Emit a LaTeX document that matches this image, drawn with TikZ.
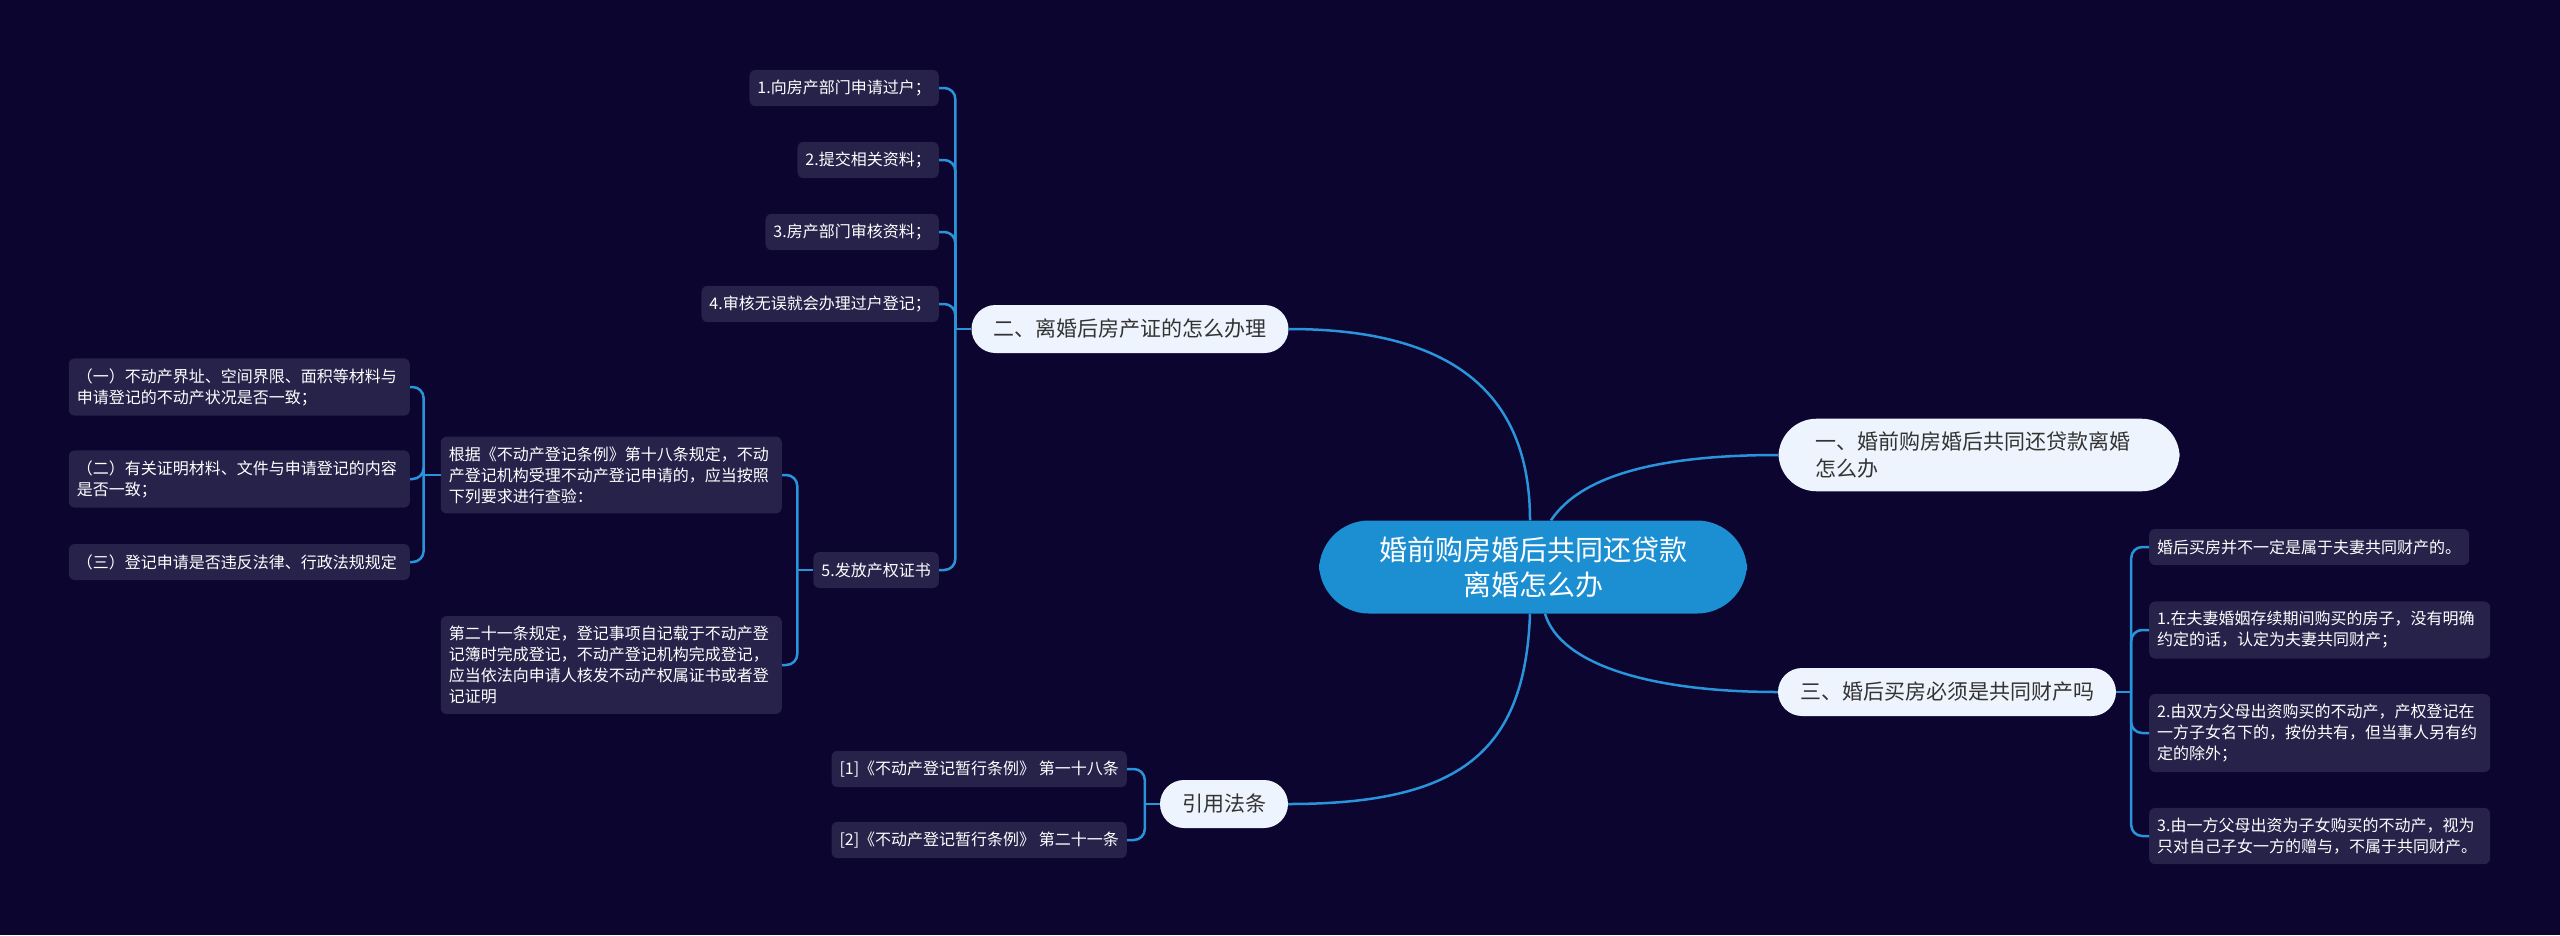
\documentclass[tikz,border=0pt]{standalone}
\usepackage{fontspec}
\setmainfont{Noto Sans CJK SC}
\usepackage{tikz}
\usetikzlibrary{calc}
\definecolor{bgnavy}{HTML}{0B0530}
\definecolor{leaffill}{HTML}{27224A}
\definecolor{linkblue}{HTML}{2A94DA}
\definecolor{rootblue}{HTML}{1B8FD2}
\definecolor{pillfill}{HTML}{EEF4FD}
\definecolor{pilltext}{HTML}{333333}

\begin{document}
\begin{tikzpicture}[x=1pt,y=-1pt,
	root/.style={fill=rootblue,text=white,rounded corners=50pt,align=center,
		inner xsep=60pt,inner ysep=16pt,font=\fontsize{28pt}{35pt}\selectfont},
	pill/.style={fill=pillfill,text=pilltext,rounded corners=24pt,inner xsep=22pt,
		minimum height=48pt,font=\fontsize{21pt}{27pt}\selectfont},
	leaf/.style={fill=leaffill,text=white,rounded corners=6pt,inner xsep=8pt,
		inner ysep=10pt,minimum height=36pt,font=\fontsize{16pt}{21pt}\selectfont},
	wide/.style={leaf,text width=325pt,align=left},
	link/.style={draw=linkblue,line width=2.5pt},
	fork/.style={link,rounded corners=11pt}]
	
	\fill[bgnavy] (0,0) rectangle (2560,935);
	
	\node[root] (root) at (1533,567) {婚前购房婚后共同还贷款\\离婚怎么办};
	
	\node[pill,rounded corners=38pt,inner xsep=37pt,inner ysep=13pt,text width=327pt,align=left]
		(one) at (1979,455) {一、婚前购房婚后共同还贷款离婚\\怎么办};
	\node[pill] (two) at (1130,329) {二、离婚后房产证的怎么办理};
	\node[pill] (three) at (1947,692) {三、婚后买房必须是共同财产吗};
	\node[pill] (cite) at (1224,804) {引用法条};
	
	% 二
	\node[leaf,anchor=east] (t1) at (939,88) {1.向房产部门申请过户；};
	\node[leaf,anchor=east] (t2) at (939,160) {2.提交相关资料；};
	\node[leaf,anchor=east] (t3) at (939,232) {3.房产部门审核资料；};
	\node[leaf,anchor=east] (t4) at (939,304) {4.审核无误就会办理过户登记；};
	\node[leaf,anchor=east] (t5) at (939,570) {5.发放产权证书};
	
	\node[wide,anchor=east] (t5a) at (782,475)
		{根据《不动产登记条例》第十八条规定，不动\\产登记机构受理不动产登记申请的，应当按照\\下列要求进行查验：};
	\node[wide,anchor=east] (t5b) at (782,665)
		{第二十一条规定，登记事项自记载于不动产登\\记簿时完成登记，不动产登记机构完成登记，\\应当依法向申请人核发不动产权属证书或者登\\记证明};
	
	\node[wide,anchor=east] (q1) at (410,387)
		{（一）不动产界址、空间界限、面积等材料与\\申请登记的不动产状况是否一致；};
	\node[wide,anchor=east] (q2) at (410,479)
		{（二）有关证明材料、文件与申请登记的内容\\是否一致；};
	\node[wide,anchor=east] (q3) at (410,562)
		{（三）登记申请是否违反法律、行政法规规定};
	
	% 三
	\node[leaf,anchor=west] (s0) at (2149,547) {婚后买房并不一定是属于夫妻共同财产的。};
	\node[wide,anchor=west] (s1) at (2149,630)
		{1.在夫妻婚姻存续期间购买的房子，没有明确\\约定的话，认定为夫妻共同财产；};
	\node[wide,anchor=west] (s2) at (2149,733)
		{2.由双方父母出资购买的不动产，产权登记在\\一方子女名下的，按份共有，但当事人另有约\\定的除外；};
	\node[wide,anchor=west] (s3) at (2149,836)
		{3.由一方父母出资为子女购买的不动产，视为\\只对自己子女一方的赠与，不属于共同财产。};
	
	% 引用法条
	\node[leaf,anchor=east] (c1) at (1127,769) {[1]《不动产登记暂行条例》 第一十八条};
	\node[leaf,anchor=east] (c2) at (1127,840) {[2]《不动产登记暂行条例》 第二十一条};
	
	\draw[link] ([xshift=-3pt]root.north) .. controls +(0,-130) and +(160,0) .. (two.east);
	\draw[link] ([xshift=18pt]root.north) .. controls +(30,-45) and +(-120,0) .. (one.west);
	\draw[link] ([xshift=12pt]root.south) .. controls +(15,50) and +(-130,0) .. (three.west);
	\draw[link] ([xshift=-3pt]root.south) .. controls +(-5,140) and +(170,0) .. (cite.east);
	
	\coordinate (j2) at ([xshift=-16pt]two.west);
	\coordinate (j5) at ([xshift=-16pt]t5.west);
	\coordinate (ja) at ([xshift=-17pt]t5a.west);
	\coordinate (j3) at ([xshift=15pt]three.east);
	\coordinate (jc) at ([xshift=-15pt]cite.west);
	
	\draw[link] (two.west) -- (j2);
	\foreach \k in {t1,t2,t3,t4,t5}
		\draw[fork] (j2) |- (\k.east);
	\draw[link] (t5.west) -- (j5);
	\foreach \k in {t5a,t5b}
		\draw[fork] (j5) |- (\k.east);
	\draw[link] (t5a.west) -- (ja);
	\foreach \k in {q1,q2,q3}
		\draw[fork] (ja) |- (\k.east);
	\draw[link] (three.east) -- (j3);
	\foreach \k in {s0,s1,s2,s3}
		\draw[fork] (j3) |- (\k.west);
	\draw[link] (cite.west) -- (jc);
	\foreach \k in {c1,c2}
		\draw[fork] (jc) |- (\k.east);
	
\end{tikzpicture}
\end{document}
